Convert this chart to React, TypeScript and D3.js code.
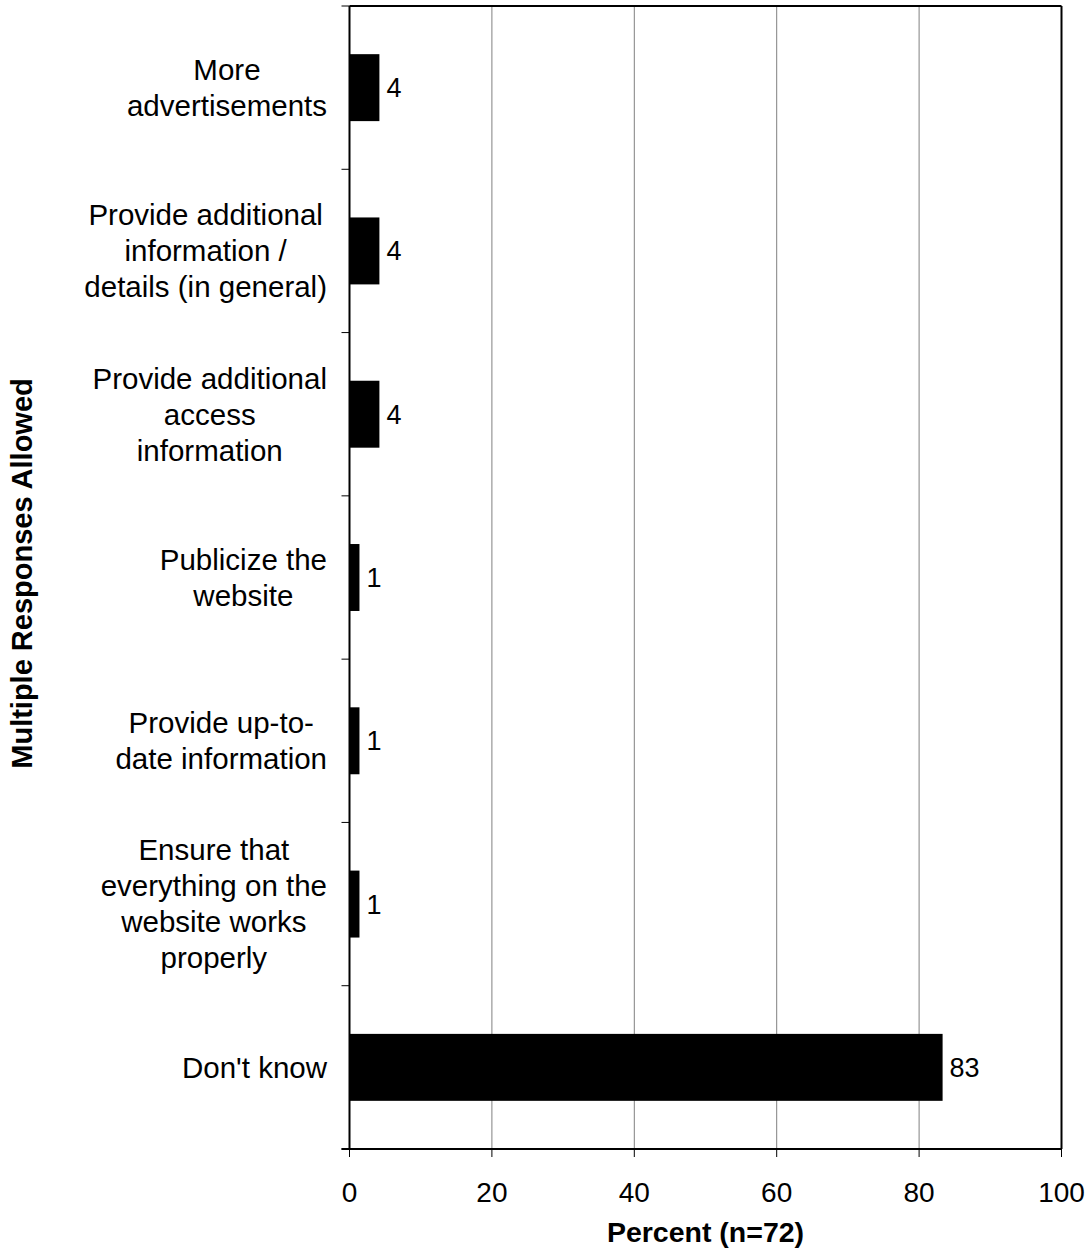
import React from "react";
import * as d3 from "d3";

const categories: string[][] = [
  ["More", "advertisements"],
  ["Provide additional", "information /", "details (in general)"],
  ["Provide additional", "access", "information"],
  ["Publicize the", "website"],
  ["Provide up-to-", "date information"],
  ["Ensure that", "everything on the", "website works", "properly"],
  ["Don't know"],
];
const values: number[] = [4.2, 4.2, 4.2, 1.4, 1.4, 1.4, 83.3];
const valueLabels: string[] = ["4", "4", "4", "1", "1", "1", "83"];
const xTicks: number[] = [0, 20, 40, 60, 80, 100];
const xTitle = "Percent (n=72)";
const yTitle = "Multiple Responses Allowed";

const W = 1091;
const H = 1259;
const left = 349.5;
const right = 1061.5;
const top = 6;
const bottom = 1149;
const FONT = "'Liberation Sans', Arial, sans-serif";

let ctx: CanvasRenderingContext2D | null = null;
function measure(t: string, size: number): number {
  if (!ctx) {
    const c = document.createElement("canvas");
    ctx = c.getContext("2d");
  }
  if (!ctx) return t.length * size * 0.5;
  ctx.font = `${size}px "Liberation Sans", Arial, sans-serif`;
  return ctx.measureText(t).width;
}

export default function App() {
  const x = d3.scaleLinear().domain([0, 100]).range([left, right]);
  const idx = categories.map((_, i) => String(i));
  const y = d3.scaleBand().domain(idx).range([top, bottom]).paddingInner(0.59).paddingOuter(0.295);
  const step = (bottom - top) / categories.length;
  const boundaries = d3.range(categories.length + 1).map((i) => top + i * step);
  const labelRight = 327;
  const lineH = 36;
  const catSize = 29.5;

  return (
    <svg width={W} height={H} style={{ position: "absolute", left: 0, top: 0, background: "#fff" }} fontFamily={FONT}>
      <rect x={0} y={0} width={W} height={H} fill="#fff" />
      {/* gridlines */}
      {xTicks.slice(1, -1).map((t) => (
        <line key={"g" + t} x1={x(t)} x2={x(t)} y1={top} y2={bottom} stroke="#808080" strokeWidth={1} />
      ))}
      {/* bars */}
      {values.map((v, i) => (
        <rect key={"b" + i} x={x(0)} y={y(String(i))!} width={x(v) - x(0)} height={y.bandwidth()} fill="#000" />
      ))}
      {/* value labels */}
      {values.map((v, i) => (
        <text key={"v" + i} x={x(v) + 7} y={y(String(i))! + y.bandwidth() / 2} dy="0.35em" fontSize={27} fill="#000">
          {valueLabels[i]}
        </text>
      ))}
      {/* frame */}
      <line x1={left} x2={right} y1={top} y2={top} stroke="#000" strokeWidth={2} />
      <line x1={right} x2={right} y1={top} y2={bottom} stroke="#000" strokeWidth={2} />
      <line x1={left} x2={left} y1={top} y2={bottom} stroke="#000" strokeWidth={2} />
      <line x1={left - 8} x2={right} y1={bottom} y2={bottom} stroke="#000" strokeWidth={2} />
      {/* y ticks */}
      {boundaries.map((b, i) => (
        <line key={"yt" + i} x1={left - 8} x2={left} y1={b} y2={b} stroke="#000" strokeWidth={1} />
      ))}
      {/* x ticks */}
      {xTicks.map((t) => (
        <g key={"xt" + t}>
          <line x1={x(t)} x2={x(t)} y1={bottom} y2={bottom + 8} stroke="#000" strokeWidth={1} />
          <text x={x(t)} y={1202} textAnchor="middle" fontSize={28} fill="#000">
            {t}
          </text>
        </g>
      ))}
      {/* category labels */}
      {categories.map((lines, i) => {
        const maxW = Math.max(...lines.map((l) => measure(l, catSize)));
        const cx = labelRight - maxW / 2;
        const cy = y(String(i))! + y.bandwidth() / 2;
        const startY = cy - ((lines.length - 1) * lineH) / 2;
        return (
          <text key={"c" + i} textAnchor="middle" fontSize={catSize} fill="#000">
            {lines.map((l, j) => (
              <tspan key={j} x={cx} y={startY + j * lineH} dy="0.35em">
                {l}
              </tspan>
            ))}
          </text>
        );
      })}
      {/* axis titles */}
      <text x={(left + right) / 2} y={1242} textAnchor="middle" fontSize={28.5} fontWeight="bold" fill="#000">
        {xTitle}
      </text>
      <text
        transform={`translate(32, 573.5) rotate(-90)`}
        textAnchor="middle"
        fontSize={29}
        fontWeight="bold"
        fill="#000"
      >
        {yTitle}
      </text>
    </svg>
  );
}
